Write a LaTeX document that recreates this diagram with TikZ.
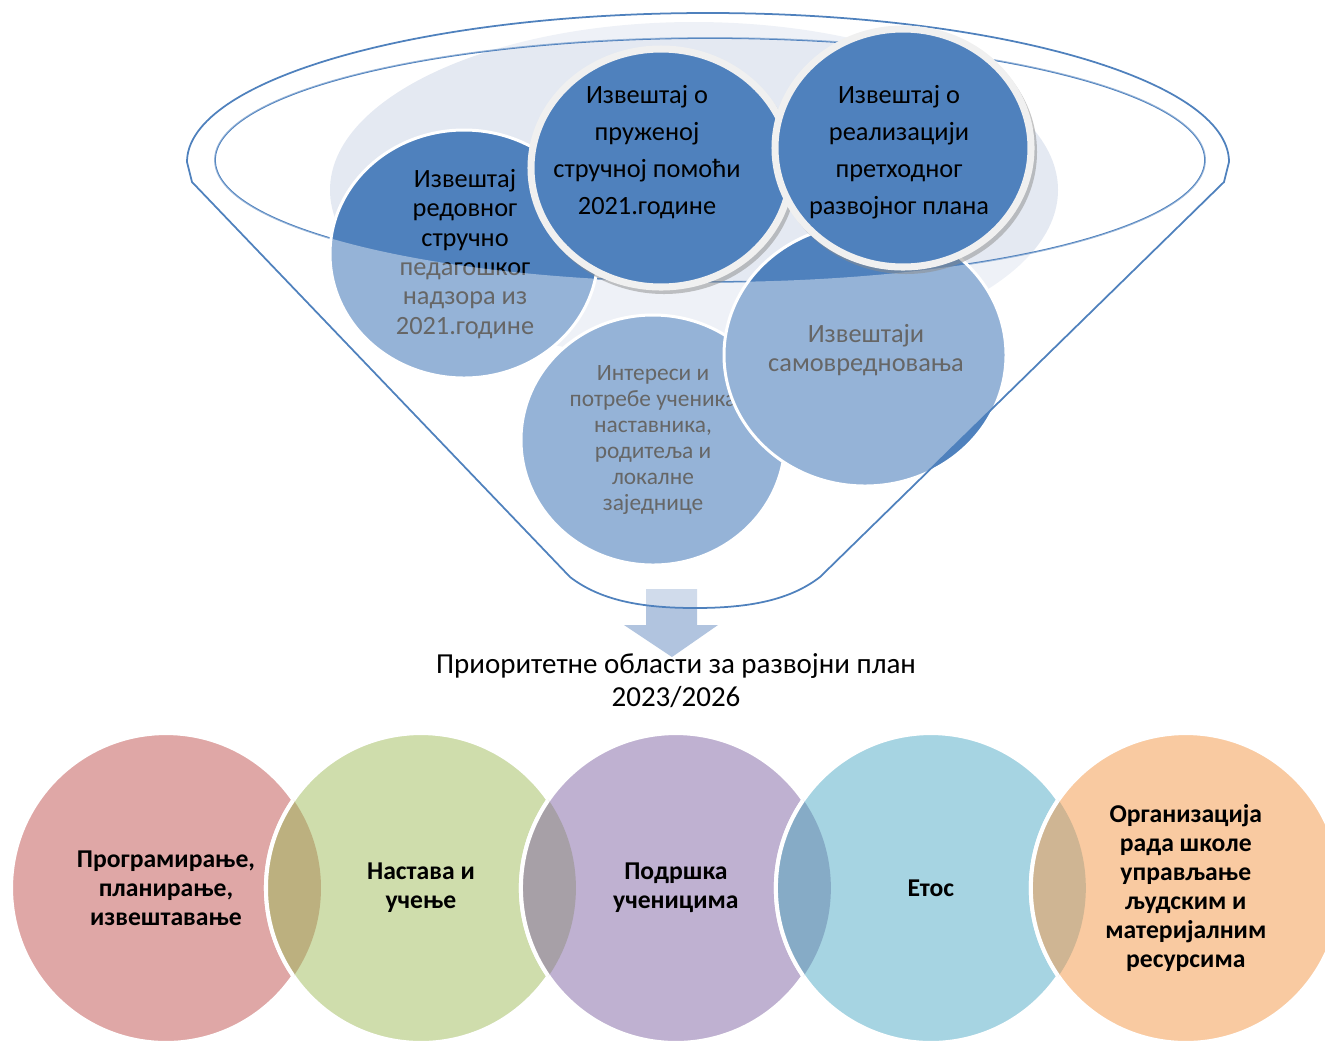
\documentclass[tikz,border=0pt]{standalone}
\usepackage{fontspec}
\setmainfont{Carlito}
\usetikzlibrary{positioning}
\definecolor{repdark}{HTML}{4F81BD}
\definecolor{reppale}{HTML}{E4E9F2}
\definecolor{rimgray}{HTML}{F0F0F0}
\definecolor{arrowblue}{HTML}{B1C4DF}
\definecolor{progred}{HTML}{DFA7A6}
\definecolor{nastgreen}{HTML}{CFDDAC}
\definecolor{podrviolet}{HTML}{BFB1D1}
\definecolor{etosblue}{HTML}{A6D4E2}
\definecolor{orgorange}{HTML}{F9CAA1}
\definecolor{lensone}{HTML}{BCB07F}
\definecolor{lenstwo}{HTML}{A7A0A7}
\definecolor{lensthree}{HTML}{86ABC6}
\definecolor{lensfour}{HTML}{CFB593}

\begin{document}
\begin{tikzpicture}[
  x=0.02cm, y=-0.02cm,
  node distance=5.1cm,
  funnelline/.style={draw=repdark, line width=1pt},
  softcirc/.style={fill=repdark, draw=white, line width=1.7pt},
  rimcirc/.style={fill=repdark, draw=rimgray, line width=4pt},
  rimshadow/.style={fill=black!45, opacity=0.5},
  toptext/.style={align=center, inner sep=0pt, font=\fontsize{15}{16.7}\selectfont},
  reptext/.style={toptext, font=\fontsize{15}{21}\selectfont},
  lowcirc/.style={circle, draw=white, line width=2.3pt, minimum size=6.2cm, inner sep=0pt,
    align=center, font=\bfseries\fontsize{14.6}{16.4}\selectfont}
]
\useasboundingbox (0,0) rectangle (1325,1042);
\clip (0,0) rectangle (1325,1042);

\fill[arrowblue] (646,589) -- (697,589) -- (697,625) -- (718,625) -- (672,657) -- (624,625) -- (646,625) -- cycle;

\fill[reppale] (694,190) ellipse [x radius=364, y radius=168];

\draw[funnelline] (710,160) ellipse [x radius=495, y radius=122];

\fill[softcirc] (464,254) ellipse [x radius=134, y radius=124];
\node[toptext] (nadzor) at (465,254) {Извештај\\редовног\\стручно\\педагошког\\надзора из\\2021.године};

\fill[softcirc] (653,440) ellipse [x radius=132, y radius=125];
\node[toptext, font=\fontsize{13.3}{14.7}\selectfont] (interesi) at (653,440) {Интереси и\\потребе ученика\\наставника,\\родитеља и\\локалне\\заједнице};

\filldraw[softcirc] (865,355) ellipse [x radius=141, y radius=131];
\node[toptext] (samovr) at (866,350) {Извештаји\\самовредновања};

\fill[white, fill opacity=0.4, even odd rule] (187,162) arc[start angle=180, end angle=360, x radius=521, y radius=149]
  -- (1224,182) -- (820,577) .. controls (790,600) and (750,608) .. (695,608)
  .. controls (640,608) and (600,600) .. (570,577) -- (192,182) -- cycle
  (710,160) ellipse [x radius=495, y radius=122];

\draw[funnelline] (187,162) arc[start angle=180, end angle=360, x radius=521, y radius=149]
  -- (1224,182) -- (820,577) .. controls (790,600) and (750,608) .. (695,608)
  .. controls (640,608) and (600,600) .. (570,577) -- (192,182) -- cycle;

\fill[rimshadow] (664,172) ellipse [x radius=133, y radius=122];
\filldraw[rimcirc] (661,168) ellipse [x radius=130, y radius=119];
\node[reptext] (pomoc) at (647,152) {Извештај о\\пруженој\\стручној помоћи\\2021.године};

\fill[rimshadow] (906,152) ellipse [x radius=131, y radius=122];
\filldraw[rimcirc] (903,148) ellipse [x radius=128, y radius=119];
\node[reptext] (realiz) at (899,152) {Извештај о\\реализацији\\претходног\\развојног плана};

\node[align=center, font=\fontsize{16.5}{18.7}\selectfont] (prio) at (676,681) {Приоритетне области за развојни план\\2023/2026};

\node[lowcirc, fill=progred] (prog) at (166,888) {Програмирање,\\планирање,\\извештавање};
\node[lowcirc, fill=nastgreen, right of=prog] (nast) {Настава и\\учење};
\node[lowcirc, fill=podrviolet, right of=nast] (podr) {Подршка\\ученицима};
\node[lowcirc, fill=etosblue, right of=podr] (etos) {Етос};
\node[lowcirc, fill=orgorange, right of=etos] (org) {Организација\\рада школе\\управљање\\људским и\\материјалним\\ресурсима};

\foreach \first/\second/\lenscol in {prog/nast/lensone, nast/podr/lenstwo, podr/etos/lensthree, etos/org/lensfour}{
  \begin{scope}
    \clip (\first.center) circle[radius=3.1cm];
    \fill[\lenscol] (\second.center) circle[radius=3.1cm];
    \draw[white, line width=2.3pt] (\second.center) circle[radius=3.1cm];
  \end{scope}
}
\end{tikzpicture}
\end{document}
